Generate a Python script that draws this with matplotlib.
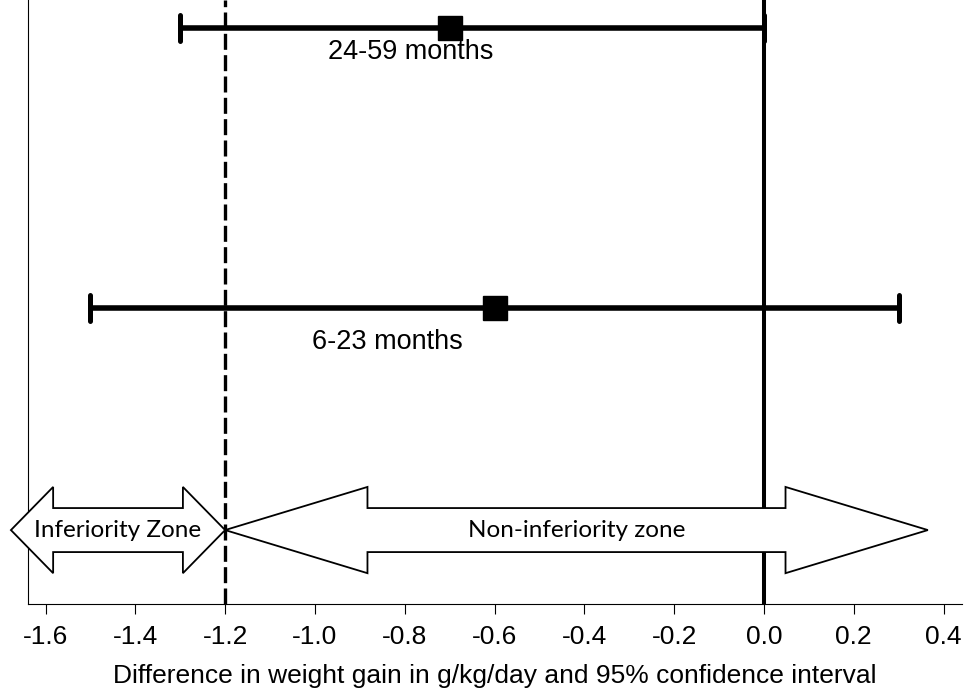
import matplotlib
matplotlib.use("Agg")
import matplotlib.pyplot as plt
from matplotlib.markers import MarkerStyle
from matplotlib.patches import Polygon

# data: age groups, point estimate and 95% CI (g/kg/day)
groups = ["6-23 months", "24-59 months"]
rows = [1, 2]
estimate = [-0.6, -0.7]
ci_low = [-1.5, -1.3]
ci_high = [0.3, 0.0]

margin = -1.2  # non-inferiority margin
ticks = [-1.6, -1.4, -1.2, -1.0, -0.8, -0.6, -0.4, -0.2, 0.0, 0.2, 0.4]
tick_labels = ["%.1f" % t for t in ticks]

# zone arrows: (start, end, head length, label)
zones = [(-1.677, -1.2, 0.094, "Inferiority Zone"),
         (-1.2, 0.365, 0.317, "Non-inferiority zone")]

plt.rcParams["font.family"] = ["Liberation Sans", "DejaVu Sans"]

fig = plt.figure(figsize=(9.72, 6.94), dpi=100)
ax = fig.add_axes([0.0288, 0.1297, 0.9609, 0.8703])
ax.set_xlim(-1.639, 0.441)
ax.set_ylim(-0.057, 2.1)

# reference lines
ax.axvline(0.0, color="black", lw=2.9, zorder=1)
ax.axvline(margin, color="black", lw=2.4, ls=(0, (4.8, 1.6)), zorder=1)

# estimates with CI
for r, est, lo, hi in zip(rows, estimate, ci_low, ci_high):
    _, caps, _ = ax.errorbar(est, r, xerr=[[est - lo], [hi - est]], fmt="s",
                             color="black", ms=17, elinewidth=4, capsize=9.5,
                             capthick=3.6, zorder=3)
    for c in caps:
        c.set_marker(MarkerStyle("|", capstyle="round"))

label_x = [-0.839, -0.786]
label_dy = [-0.122, -0.086]
for r, g, lx, dy in zip(rows, groups, label_x, label_dy):
    ax.text(lx, r + dy, g, ha="center", va="center", fontsize=19.5)

# zone arrows
arrow_y = 0.207
body = 0.0786
head = 0.154
for x0, x1, hl, lab in zones:
    pts = [(x0, arrow_y), (x0 + hl, arrow_y + head), (x0 + hl, arrow_y + body),
           (x1 - hl, arrow_y + body), (x1 - hl, arrow_y + head), (x1, arrow_y),
           (x1 - hl, arrow_y - head), (x1 - hl, arrow_y - body),
           (x0 + hl, arrow_y - body), (x0 + hl, arrow_y - head)]
    ax.add_patch(Polygon(pts, closed=True, facecolor="white", edgecolor="black",
                         lw=1.3, joinstyle="miter", clip_on=False, zorder=4))
    ax.text((x0 + x1) / 2, arrow_y, lab, ha="center", va="center",
            fontsize=17.5, family="Lato", zorder=5)

ax.spines["top"].set_visible(False)
ax.spines["right"].set_visible(False)
ax.spines["left"].set_linewidth(0.8)
ax.spines["bottom"].set_linewidth(0.8)
ax.set_yticks([])
ax.set_xticks(ticks)
ax.set_xticklabels(tick_labels)
ax.tick_params(axis="x", length=7, width=0.8, pad=8, labelsize=19)
ax.set_xlabel("Difference in weight gain in g/kg/day and 95% confidence interval",
              fontsize=19, labelpad=11)

fig.savefig("out.png", dpi=100)
